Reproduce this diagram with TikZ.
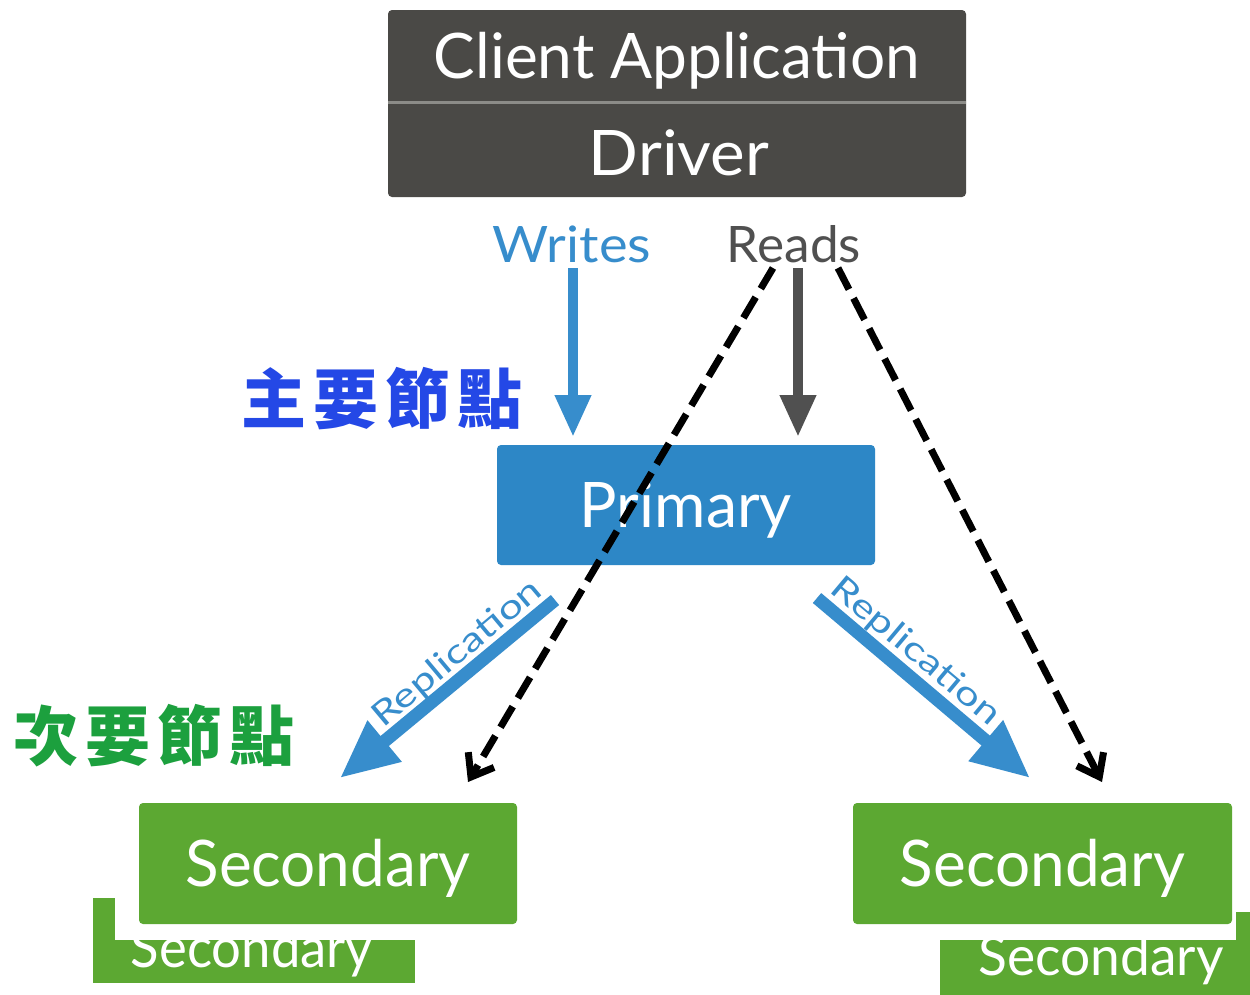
\documentclass[tikz,border=0pt]{standalone}
\usepackage{fontspec}
\setmainfont{Lato}
\newfontfamily\cjk{Noto Sans CJK TC}
\usetikzlibrary{arrows.meta,calc}

\definecolor{appgray}{RGB}{74,73,70}
\definecolor{rulegray}{RGB}{140,140,136}
\definecolor{primblue}{RGB}{45,135,198}
\definecolor{linkblue}{RGB}{55,141,204}
\definecolor{readgray}{RGB}{80,80,80}
\definecolor{secgreen}{RGB}{92,168,50}
\definecolor{zhblue}{RGB}{36,72,230}
\definecolor{zhgreen}{RGB}{28,160,62}

% set a label to a given width and cap height
\newcommand{\capfit}[3]{\resizebox{#1}{#2}{\raisebox{0pt}[\fontcharht\font`H][0pt]{#3}}}

\begin{document}
\begin{tikzpicture}[x=1pt,y=-1pt,
  lbl/.style={inner sep=0pt,outer sep=0pt,anchor=base},
  nodebox/.style={inner sep=0pt,outer sep=0pt,rounded corners=4pt,text=white},
  backbox/.style={inner sep=0pt,outer sep=0pt,fill=secgreen},
  writearrow/.style={line width=10pt,-{Triangle[length=42pt,width=34pt]}},
  replarrow/.style={draw=linkblue,line width=13pt,-{Triangle[length=58pt,width=50pt]}},
  dasharrow/.style={draw=black,line width=7pt,dash pattern=on 24pt off 10pt,
                    -{Straight Barb[length=20pt,width=30pt]}},
  repllbl/.style={inner sep=0pt,text=linkblue},
  zh/.style={anchor=west,inner sep=0pt,font=\cjk\bfseries\fontsize{65}{65}\selectfont}]

\useasboundingbox (0,0) rectangle (1250,994);
\fill[white] (0,0) rectangle (1250,994);

% application and driver block
\node[nodebox,fill=appgray,minimum width=578pt,minimum height=187pt] (app) at (677,103.5) {};
\draw[rulegray,line width=3pt] (app.west |- 0,102) -- (app.east |- 0,102);
\node[lbl,text=white] (client) at (677,78) {\capfit{486pt}{45pt}{Client Application}};
\node[lbl,text=white] (driver) at (679,175) {\capfit{180pt}{45pt}{Driver}};

% operation labels
\node[lbl,text=linkblue] (writes) at (572,262) {\capfit{158pt}{36pt}{Writes}};
\node[lbl,text=readgray] (reads) at (794,262) {\capfit{134pt}{36pt}{Reads}};

% primary
\node[nodebox,fill=primblue,minimum width=378pt,minimum height=120pt] (primary) at (686,505)
  {\capfit{212pt}{45pt}{Primary}};

\draw[writearrow,draw=linkblue] ($(writes.south)+(1,6)$) -- ($(writes.south |- primary.north)+(1,-8)$);
\draw[writearrow,draw=readgray] ($(reads.south)+(4,6)$) -- ($(reads.south |- primary.north)+(4,-8)$);

% secondaries: stacked copies behind the front boxes
\node[backbox,minimum width=322pt,minimum height=85pt] (secLb) at (254,940.5) {};
\node[lbl,text=white] (secLbtxt) at (252,967) {\capfit{242pt}{40pt}{Secondary}};
\node[backbox,minimum width=315pt,minimum height=88pt] (secRb) at (1097.5,956) {};
\node[lbl,text=white] (secRbtxt) at (1101,975) {\capfit{245pt}{39pt}{Secondary}};
\fill[white] (115,880) rectangle (420,940);
\fill[white] (930,890) rectangle (1236,940);

\node[nodebox,fill=secgreen,minimum width=378pt,minimum height=121pt] (secL) at (328,863.5)
  {\capfit{285pt}{46pt}{Secondary}};
\node[nodebox,fill=secgreen,minimum width=379pt,minimum height=121pt] (secR) at (1042.5,863.5)
  {\capfit{285pt}{46pt}{Secondary}};

% replication
\draw[replarrow] ($(primary.south west)+(58,35)$) -- ($(secL.north west)+(201,-25)$);
\draw[replarrow] ($(primary.south east)+(-58,33)$) -- ($(secR.north west)+(177,-25)$);
\node[repllbl,rotate=40] (replL) at (456,652) {\capfit{210pt}{24pt}{Replication}};
\node[repllbl,rotate=-40] (replR) at (917,650) {\capfit{210pt}{24pt}{Replication}};

% role captions
\node[zh,text=zhblue] (zhprim) at (241,399) {主\hspace{7pt}要\hspace{7pt}節\hspace{7pt}點};
\node[zh,text=zhgreen] (zhsec) at (13,736) {次\hspace{7pt}要\hspace{7pt}節\hspace{7pt}點};

% secondary reads
\draw[dasharrow] ($(reads.south)+(-21,6)$) -- ($(secL.north east)+(-49,-21)$);
\draw[dasharrow] ($(reads.south)+(44,6)$) -- ($(secR.north east)+(-130,-21)$);

\end{tikzpicture}
\end{document}
